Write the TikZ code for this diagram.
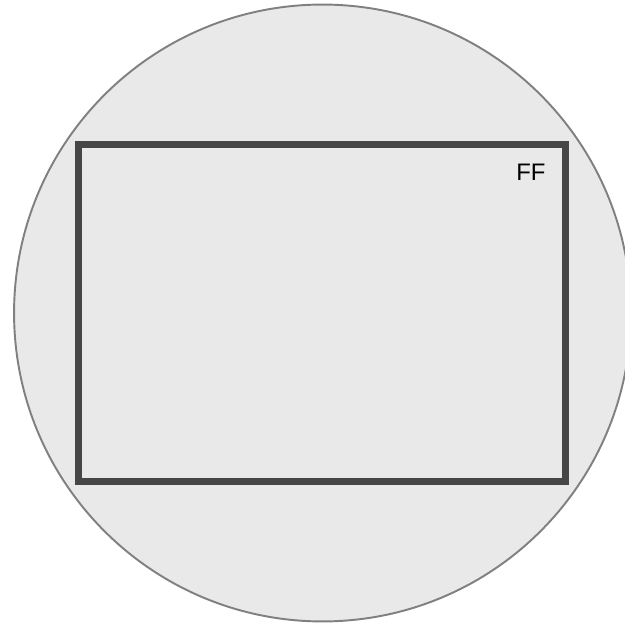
\documentclass[tikz,border=0pt]{standalone}
\usepackage{fontspec}
\setsansfont{Liberation Sans}
\usetikzlibrary{positioning}

\definecolor{zonefill}{HTML}{E9E9E9}
\definecolor{zoneline}{HTML}{808080}
\definecolor{framedark}{HTML}{464646}

\begin{document}
\begin{tikzpicture}[
    x=0.02cm, y=-0.02cm,
    zone/.style={circle, draw=zoneline, fill=zonefill, line width=1.1pt, minimum size=12.34cm, inner sep=0pt},
    frame/.style={rectangle, draw=framedark, line width=4pt, minimum width=9.76cm, minimum height=6.73cm, inner sep=0pt},
    tag/.style={font=\sffamily\fontsize{13.6}{16}\selectfont, text=black, inner sep=0pt}
]

% Canvas (pixel grid of the reference)
\useasboundingbox (0, 0) rectangle (625, 624);
\clip (0, 0) rectangle (625, 624);

% Outer zone
\node[zone] (zone) at (322.5, 313) {};

% Inner frame
\node[frame] (frame) at (322, 312.8) {};

% Label in the top right corner
\node[tag] (ff) at ([shift={(-38.5, 31)}]frame.north east) {FF};

\end{tikzpicture}
\end{document}
